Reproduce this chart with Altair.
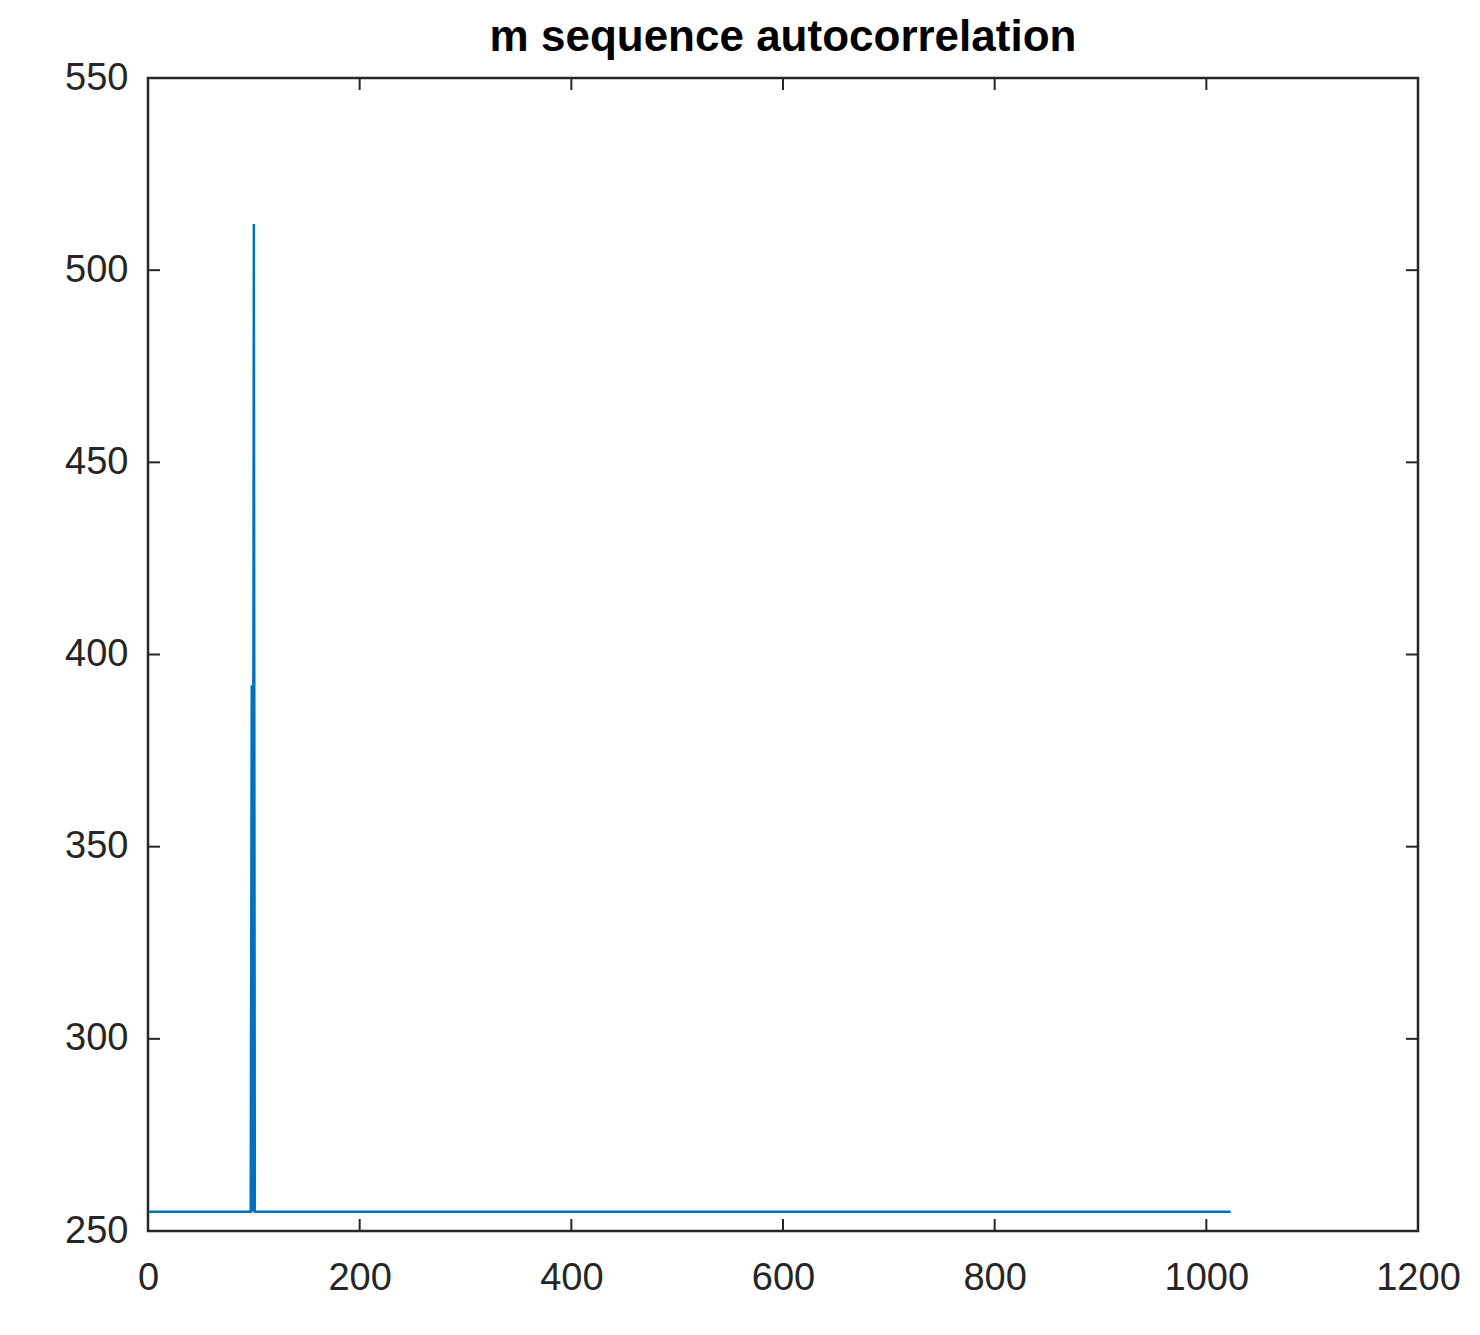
import altair as alt
import pandas as pd

# series (breakpoints of the line)
lag = [1, 97, 98, 99, 100, 101, 1023]
corr = [255, 255, 392, 255, 512, 255, 255]

x_ticks = [0, 200, 400, 600, 800, 1000, 1200]
y_ticks = [250, 300, 350, 400, 450, 500, 550]

W, H = 1270, 1153
AX = "#262626"
FONT = "Liberation Sans"

df = pd.DataFrame({"lag": lag, "corr": corr})
xt = pd.DataFrame({"t": x_ticks})
yt = pd.DataFrame({"t": y_ticks})

xs = alt.Scale(domain=[0, 1200], nice=False, zero=False)
ys = alt.Scale(domain=[250, 550], nice=False, zero=False)

line = alt.Chart(df).mark_line(color="#0072BD", strokeWidth=2.4, clip=True).encode(
    x=alt.X("lag:Q", scale=xs,
            axis=alt.Axis(values=x_ticks, format="d", title=None, ticks=False, grid=False, domain=False,
                          labelFontSize=38, labelFont=FONT, labelColor=AX, labelPadding=28,
                          labelFlush=False)),
    y=alt.Y("corr:Q", scale=ys,
            axis=alt.Axis(values=y_ticks, format="d", title=None, ticks=False, grid=False, domain=False,
                          labelFontSize=38, labelFont=FONT, labelColor=AX, labelPadding=20,
                          labelFlush=False)),
)

tick_style = dict(color=AX, strokeWidth=2)
xb = alt.Chart(xt).mark_rule(**tick_style).encode(x=alt.X("t:Q", scale=xs), y=alt.value(H), y2=alt.value(H - 12))
xtp = alt.Chart(xt).mark_rule(**tick_style).encode(x=alt.X("t:Q", scale=xs), y=alt.value(0), y2=alt.value(12))
yl = alt.Chart(yt).mark_rule(**tick_style).encode(y=alt.Y("t:Q", scale=ys), x=alt.value(0), x2=alt.value(12))
yr = alt.Chart(yt).mark_rule(**tick_style).encode(y=alt.Y("t:Q", scale=ys), x=alt.value(W), x2=alt.value(W - 12))

chart = alt.layer(line, xb, xtp, yl, yr).properties(
    width=W, height=H,
    background="white",
    title=alt.Title("m sequence autocorrelation", fontSize=44, font=FONT, fontWeight="bold",
                    color="#000000", anchor="middle", frame="group", offset=-1),
    autosize=alt.AutoSizeParams(type="none"),
    padding={"left": 140, "top": 70, "right": 54, "bottom": 96},
).configure_view(stroke=AX, strokeWidth=2.5)

chart.save("out.html", embed_options={"renderer": "svg", "actions": False})
